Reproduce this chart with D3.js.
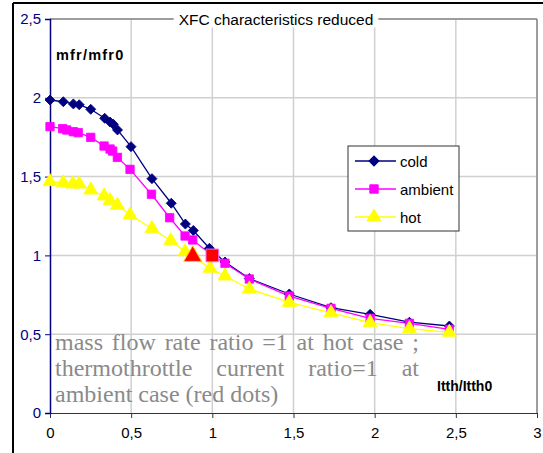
<!DOCTYPE html>
<html>
<head>
<meta charset="utf-8">
<script src="https://cdn.jsdelivr.net/npm/d3@7"></script>
<style>
  body { margin: 0; background: #fff; }
  text { font-family: Arial, "Liberation Sans", sans-serif; }
</style>
</head>
<body>
<svg id="chart" width="543" height="453"></svg>
<script>
// data
var coldX = [0, 0.082, 0.144, 0.18, 0.251, 0.337, 0.37, 0.39, 0.416, 0.499, 0.628, 0.747, 0.834, 0.883, 0.982, 1.078, 1.228, 1.474, 1.731, 1.972, 2.214, 2.46]
var coldY = [1.986, 1.975, 1.961, 1.956, 1.927, 1.87, 1.846, 1.832, 1.796, 1.69, 1.487, 1.331, 1.199, 1.158, 1.045, 0.958, 0.853, 0.755, 0.668, 0.626, 0.576, 0.552]
var ambX = [0, 0.078, 0.103, 0.144, 0.174, 0.251, 0.333, 0.37, 0.386, 0.415, 0.493, 0.625, 0.737, 0.832, 0.879, 1.0, 1.078, 1.228, 1.474, 1.731, 1.972, 2.214, 2.46]
var ambY = [1.817, 1.804, 1.796, 1.785, 1.779, 1.749, 1.694, 1.675, 1.662, 1.622, 1.546, 1.388, 1.239, 1.123, 1.098, 1.0, 0.95, 0.85, 0.742, 0.664, 0.601, 0.569, 0.531]
var hotX = [0, 0.082, 0.14, 0.18, 0.251, 0.333, 0.37, 0.415, 0.493, 0.628, 0.744, 0.832, 0.879, 0.986, 1.078, 1.228, 1.474, 1.731, 1.972, 2.214, 2.46]
var hotY = [1.468, 1.461, 1.453, 1.453, 1.415, 1.377, 1.347, 1.318, 1.256, 1.171, 1.093, 1.023, 0.995, 0.918, 0.869, 0.787, 0.702, 0.636, 0.573, 0.535, 0.512]
var redX = [0.879, 1.0]
var redY = [0.995, 1.0]
var xTicks = [0, 0.5, 1, 1.5, 2, 2.5, 3]
var yTicks = [0, 0.5, 1, 1.5, 2, 2.5]
var seriesNames = ["cold", "ambient", "hot"]
var seriesColors = ["#000080", "#ff00ff", "#ffff00"]
var noteLines = ["mass flow rate ratio =1 at hot case ;", "thermothrottle current ratio=1 at", "ambient case (red dots)"]

var svg = d3.select('#chart')
var fmt = function(d) { return String(d).replace('.', ',') }

var x = d3.scaleLinear().domain([0, 3]).range([50, 537])
var y = d3.scaleLinear().domain([0, 2.5]).range([413, 19])

// outer frame (cropped on right / bottom)
svg.append("line").attr("x1", 13).attr("y1", 3).attr("x2", 543).attr("y2", 3).style("stroke", "#000").style("stroke-width", 2)
svg.append("line").attr("x1", 13).attr("y1", 3).attr("x2", 13).attr("y2", 453).style("stroke", "#000").style("stroke-width", 2)

// grid
svg.append("g").selectAll("line").data(xTicks.slice(1)).join("line")
    .attr("x1", d => x(d)).attr("x2", d => x(d)).attr("y1", y(0)).attr("y2", y(2.5))
    .style("stroke", "#d0d0d0").style("stroke-width", 1.5)
svg.append("g").selectAll("line").data(yTicks.slice(1)).join("line")
    .attr("x1", x(0)).attr("x2", x(3)).attr("y1", d => y(d)).attr("y2", d => y(d))
    .style("stroke", "#d0d0d0").style("stroke-width", 1.5)
// plot border top / right
svg.append("line").attr("x1", x(0)).attr("x2", x(3)).attr("y1", y(2.5)).attr("y2", y(2.5)).style("stroke", "#888").style("stroke-width", 1.5)
svg.append("line").attr("x1", x(3)).attr("x2", x(3)).attr("y1", y(2.5)).attr("y2", y(0)).style("stroke", "#888").style("stroke-width", 1.5)

// axes
var xAxis = svg.append("g").attr("transform", "translate(0," + y(0) + ")")
    .call(d3.axisBottom(x).tickValues(xTicks).tickFormat(fmt).tickSize(5).tickPadding(9))
xAxis.select(".domain").style("stroke", "#333")
xAxis.selectAll(".tick line").style("stroke", "#333")
xAxis.selectAll("text").style("font-size", "15px").style("fill", "#000")

var yAxis = svg.append("g").attr("transform", "translate(" + x(0) + ",0)")
    .call(d3.axisLeft(y).tickValues(yTicks).tickFormat(fmt).tickSize(5).tickPadding(4))
yAxis.select(".domain").style("stroke", "#000080").style("stroke-width", 1.5)
yAxis.selectAll(".tick line").style("stroke", "#000080")
yAxis.selectAll("text").style("font-size", "15px").style("fill", "#000080")

// title with white backing
var titleBg = svg.append("rect").style("fill", "#fff")
var title = svg.append("text").attr("x", 276).attr("y", y(2.5)).attr("text-anchor", "middle")
    .attr("dominant-baseline", "central").style("font-size", "15.5px").text("XFC characteristics reduced")
var tb = title.node().getBBox()
titleBg.attr("x", tb.x - 5).attr("y", tb.y).attr("width", tb.width + 10).attr("height", tb.height)

svg.append("text").attr("x", 56).attr("y", 60).text("mfr/mfr0").style("font-size", "14.5px").style("font-weight", "bold").style("letter-spacing", "1.2px")
svg.append("text").attr("x", 437).attr("y", 391).text("Itth/Itth0").style("font-size", "14px").style("font-weight", "bold")

// note text, justified
var noteY = [350, 376, 402]
noteLines.forEach(function(line, i) {
    var words = line.split(" ")
    var g = svg.append("g")
    var ts = words.map(w => g.append("text").attr("y", noteY[i]).text(w)
        .style("font-family", "'Liberation Serif', 'Times New Roman', serif").style("font-size", "24px").style("fill", "#8a8a8a"))
    var widths = ts.map(t => t.node().getComputedTextLength())
    var total = d3.sum(widths)
    var left = 55, right = 419
    var gap = i < 2 ? (right - left - total) / (words.length - 1) : 6
    var cx = left
    ts.forEach(function(t, j) { t.attr("x", cx); cx += widths[j] + gap })
})

// series
var line = d3.line().x(d => x(d[0])).y(d => y(d[1]))
var series = [d3.zip(coldX, coldY), d3.zip(ambX, ambY), d3.zip(hotX, hotY)]
var shapes = [d3.symbolSquare, d3.symbolSquare, d3.symbolTriangle]
var sizes = [50, 70, 85]
series.forEach(function(pts, i) {
    svg.append("path").datum(pts).attr("d", line).style("fill", "none").style("stroke", seriesColors[i]).style("stroke-width", 1.3)
})
series.forEach(function(pts, i) {
    svg.append("g").selectAll("path").data(pts).join("path")
        .attr("transform", d => "translate(" + x(d[0]) + "," + y(d[1]) + ")" + (i == 0 ? " rotate(45)" : ""))
        .attr("d", d3.symbol().type(shapes[i]).size(sizes[i]))
        .style("fill", seriesColors[i]).style("stroke", seriesColors[i]).style("stroke-width", 0.8)
})

// red dots
svg.append("path").attr("transform", "translate(" + x(redX[0]) + "," + y(redY[0]) + ")")
    .attr("d", d3.symbol().type(d3.symbolTriangle).size(140)).style("fill", "#ff0000").style("stroke", "#ffcc00").style("stroke-width", 1)
svg.append("path").attr("transform", "translate(" + x(redX[1]) + "," + y(redY[1]) + ")")
    .attr("d", d3.symbol().type(d3.symbolSquare).size(160)).style("fill", "#ff0000").style("stroke", "#ff66ff").style("stroke-width", 1)

// legend
var lg = svg.append("g")
lg.append("rect").attr("x", 348).attr("y", 146).attr("width", 111).attr("height", 85).style("fill", "#fff").style("stroke", "#333").style("stroke-width", 1)
seriesNames.forEach(function(name, i) {
    var ly = 161 + i * 28
    lg.append("line").attr("x1", 355).attr("x2", 396).attr("y1", ly).attr("y2", ly).style("stroke", seriesColors[i]).style("stroke-width", 1.3)
    lg.append("path").attr("transform", "translate(374," + ly + ")" + (i == 0 ? " rotate(45)" : ""))
        .attr("d", d3.symbol().type(shapes[i]).size(sizes[i])).style("fill", seriesColors[i]).style("stroke", seriesColors[i])
    lg.append("text").attr("x", 400).attr("y", ly).attr("dominant-baseline", "central").text(name).style("font-size", "15px")
})
</script>
</body>
</html>
